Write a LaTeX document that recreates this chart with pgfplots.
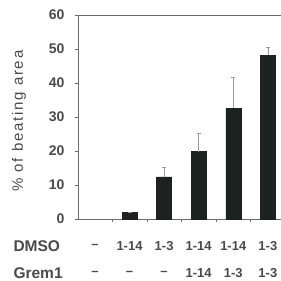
\documentclass[border=0pt]{standalone}
\usepackage{pgfplots}
\pgfplotsset{compat=1.18}
\usepackage{fontspec}
\setmainfont{Liberation Sans}
\newfontfamily\lblfont{Liberation Sans}[LetterSpace=12]
\definecolor{txt}{HTML}{4A4A4A}
\definecolor{barc}{HTML}{1C2220}
\definecolor{axc}{HTML}{6A6A6A}
\begin{document}
\begin{tikzpicture}
\useasboundingbox (-78pt,-62pt) rectangle (203pt,219pt);
\begin{axis}[
  scale only axis,
  width=203pt, height=204pt,
  xmin=-0.49, xmax=5.38,
  ymin=0, ymax=60,
  axis x line=box,
  axis y line=left,
  axis line style={axc, line width=0.8pt, -},
  ytick={0,10,20,30,40,50,60},
  xtick={0.5,1.5,2.5,3.5,4.5},
  xticklabels={},
  xtick pos=bottom,
  ytick pos=left,
  tick style={axc, line width=0.6pt},
  major tick length=3pt,
  tick align=outside,
  yticklabel style={font=\fontsize{14}{15}\selectfont\bfseries, text=txt, xshift=-7pt},
  /pgf/number format/assume math mode=true,
  ylabel={\% of beating area},
  every axis y label/.style={at={(rel axis cs:0,0.5)}, xshift=-59pt, yshift=-4pt, rotate=90, anchor=center,
     font=\lblfont\fontsize{15}{16}\selectfont, text=txt},
  clip=false,
  bar width=15pt,
]
\addplot[ybar, fill=barc, draw=barc,
  error bars/.cd, y dir=plus, y explicit,
  error bar style={color=gray!80, line width=0.7pt},
  error mark options={rotate=90, mark size=2pt, color=gray!80}]
  coordinates {
  (1,2) +- (0,0)
  (2,12.4) +- (0,2.9)
  (3,19.8) +- (0,5.5)
  (4,32.6) +- (0,9.2)
  (5,48.2) +- (0,2.4)
  };
\tikzset{rowl/.style={font=\fontsize{13}{14}\selectfont\bfseries, text=txt, yshift=-27pt},
         rowm/.style={font=\fontsize{13}{14}\selectfont\bfseries, text=txt, yshift=-54pt},
         rown/.style={font=\fontsize{15.5}{16}\selectfont\bfseries, text=txt, anchor=west}}
\node[rowl] at (axis cs:0,0) {--};
\node[rowl] at (axis cs:1,0) {1-14};
\node[rowl] at (axis cs:2,0) {1-3};
\node[rowl] at (axis cs:3,0) {1-14};
\node[rowl] at (axis cs:4,0) {1-14};
\node[rowl] at (axis cs:5,0) {1-3};
\node[rowm] at (axis cs:0,0) {--};
\node[rowm] at (axis cs:1,0) {--};
\node[rowm] at (axis cs:2,0) {--};
\node[rowm] at (axis cs:3,0) {1-14};
\node[rowm] at (axis cs:4,0) {1-3};
\node[rowm] at (axis cs:5,0) {1-3};
\node[rown, yshift=-27pt, xshift=-68pt] at (rel axis cs:0,0) {DMSO};
\node[rown, yshift=-54pt, xshift=-68pt] at (rel axis cs:0,0) {Grem1};
\end{axis}
\end{tikzpicture}
\end{document}
